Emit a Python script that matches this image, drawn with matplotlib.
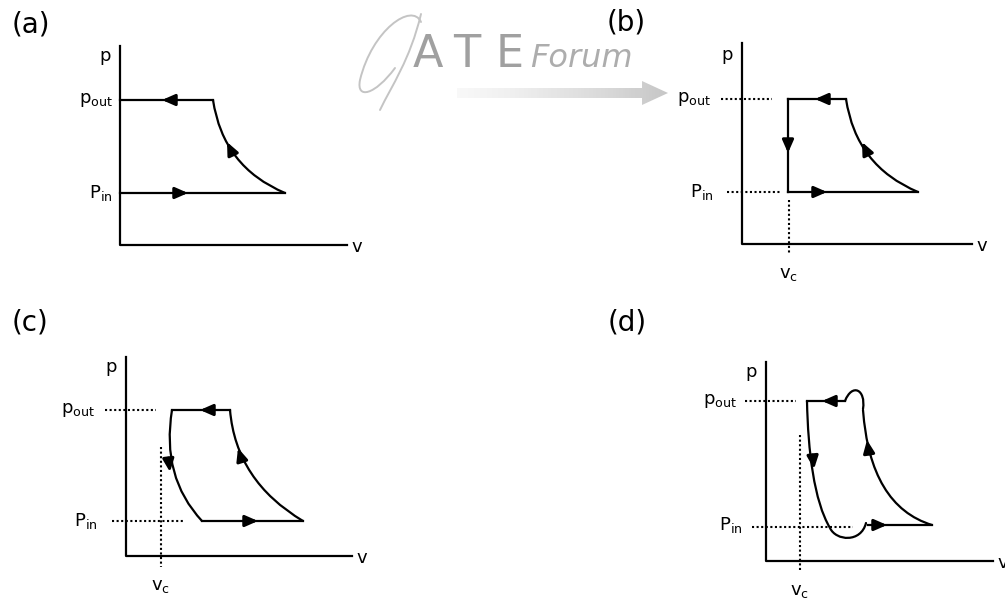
import numpy as np
import matplotlib.pyplot as plt
from matplotlib.path import Path
from matplotlib.patches import PathPatch, Polygon

plt.rcParams['mathtext.default'] = 'regular'
plt.rcParams['font.family'] = ['DejaVu Sans']

W, H = 1005, 599

# --- diagram values (v, p measured from each panel's origin) ---
panel_names = ['(a)', '(b)', '(c)', '(d)']
p_out = [145, 145, 146, 160]
p_in = [52, 52, 35, 36]
v_axis_len = [227, 230, 226, 227]
p_axis_len = [199, 201, 199, 199]
v_c = [None, 47, 35, 34]

# (a) ideal, no clearance
a_top_v = [0, 93]
a_bottom_v = [0, 165]
a_comp = [(93, 145), (103, 78), (165, 52)]

# (b) clearance, instant re-expansion
b_top_v = [46, 104]
b_bottom_v = [46, 176]
b_comp = [(104, 145), (114, 78), (176, 52)]

# (c) clearance with re-expansion curve
c_top_v = [46, 104]
c_bottom_v = [76, 177]
c_comp = [(104, 146), (110, 75), (177, 35)]
c_reexp = [(46, 146), (35, 79), (76, 35)]

# (d) real cycle with valve over/undershoot
d_top_v = [41, 79]
d_bottom_v = [102, 166]
d_bump = [(79, 160), (86, 178), (100, 172), (97, 152)]
d_comp = [(97, 151), (104, 55), (166, 36)]
d_reexp = [(41, 160), (42, 110), (48, 60), (64, 33), (70, 20), (95, 18), (100, 38)]

# arrows: (tip, direction)
arrows = [
    [((42, 145), (-1, 0)), ((68, 52), (1, 0)), ((107, 103), (-0.43, 0.9))],
    [((73, 145), (-1, 0)), ((46, 91), (0, -1)), ((85, 52), (1, 0)), ((120, 102), (-0.43, 0.9))],
    [((74, 146), (-1, 0)), ((44, 84), (0.12, -1)), ((112, 108), (-0.3, 0.95)), ((132, 35), (1, 0))],
    [((56, 160), (-1, 0)), ((48, 92), (0.1, -1)), ((101, 121), (-0.15, 1)), ((121, 36), (1, 0))],
]

# --- layout (pixel origin of each panel, label offsets) ---
origin_x = [120, 742, 126, 766]
origin_y = [245, 244, 556, 561]
label_xy = [(12, 24), (607, 23), (12, 323), (608, 322)]
p_bottom = [-45, -39, -45, -45]
pout_dx = [-7, -31, -31, -29]
pin_dx = [-8, -29, -29, -24]

fig = plt.figure(figsize=(W / 100, H / 100), dpi=100)
fig.patch.set_facecolor('white')

LW = 1.6
FS = 13


def panel_axes(ox, oy, pmin):
    vmin, vmax, pmax = -95, 250, 215
    ax = fig.add_axes([(ox + vmin) / W, (H - (oy - pmin)) / H,
                       (vmax - vmin) / W, (pmax - pmin) / H])
    ax.set_xlim(vmin, vmax)
    ax.set_ylim(pmin, pmax)
    ax.axis('off')
    return ax


def bezier(ax, pts, order=3, color='black', lw=LW):
    code = Path.CURVE3 if order == 3 else Path.CURVE4
    codes = [Path.MOVETO] + [code] * (len(pts) - 1)
    ax.add_patch(PathPatch(Path(pts, codes), fc='none', ec=color, lw=lw,
                           capstyle='round'))


def arrow(ax, tip, d, length=14):
    d = np.array(d, dtype=float)
    d /= np.hypot(*d)
    tail = np.array(tip) - d * length
    ax.annotate('', xy=tip, xytext=tail,
                arrowprops=dict(arrowstyle='-|>,head_length=0.5,head_width=0.22',
                                color='black', lw=2.2, mutation_scale=15,
                                shrinkA=0, shrinkB=0))


def dotted(ax, xs, ys):
    ax.plot(xs, ys, color='black', lw=1.5, ls=(0, (1, 1.2)))


axes = [panel_axes(origin_x[i], origin_y[i], p_bottom[i]) for i in range(4)]

for i, ax in enumerate(axes):
    # axes lines
    ax.plot([0, 0, v_axis_len[i]], [p_axis_len[i], 0, 0], color='black', lw=LW)
    ax.text(-9, 189, 'p', fontsize=FS, ha='right', va='center')
    ax.text(v_axis_len[i] + 4, -2, 'v', fontsize=FS, ha='left', va='center')
    ax.text(pout_dx[i], p_out[i], 'p$_{out}$', fontsize=FS, ha='right', va='center')
    ax.text(pin_dx[i], p_in[i], 'P$_{in}$', fontsize=FS, ha='right', va='center')
    if v_c[i] is not None:
        dotted(ax, [-21, 30], [p_out[i], p_out[i]])
        ax.text(v_c[i], -30, 'v$_c$', fontsize=FS, ha='center', va='center',
                clip_on=True)
    for tip, d in arrows[i]:
        arrow(ax, tip, d)

# (a)
ax = axes[0]
ax.plot(a_top_v, [p_out[0]] * 2, color='black', lw=LW)
ax.plot(a_bottom_v, [p_in[0]] * 2, color='black', lw=LW)
bezier(ax, a_comp, 3)

# (b)
ax = axes[1]
ax.plot(b_top_v, [p_out[1]] * 2, color='black', lw=LW)
ax.plot(b_bottom_v, [p_in[1]] * 2, color='black', lw=LW)
ax.plot([b_top_v[0]] * 2, [p_out[1], p_in[1]], color='black', lw=LW)
bezier(ax, b_comp, 3)
dotted(ax, [-15, 38], [p_in[1]] * 2)
dotted(ax, [v_c[1]] * 2, [44, -11])

# (c)
ax = axes[2]
ax.plot(c_top_v, [p_out[2]] * 2, color='black', lw=LW)
ax.plot(c_bottom_v, [p_in[2]] * 2, color='black', lw=LW)
bezier(ax, c_comp, 3)
bezier(ax, c_reexp, 3)
dotted(ax, [-14, 59], [p_in[2]] * 2)
dotted(ax, [v_c[2]] * 2, [109, -11])

# (d)
ax = axes[3]
ax.plot(d_top_v, [p_out[3]] * 2, color='black', lw=LW)
ax.plot(d_bottom_v, [p_in[3]] * 2, color='black', lw=LW)
bezier(ax, d_bump, 4)
bezier(ax, d_comp, 3)
bezier(ax, d_reexp, 4)
dotted(ax, [-14, 87], [p_in[3] - 2] * 2)
dotted(ax, [v_c[3]] * 2, [126, -9])

# panel letters
for name, (x, y) in zip(panel_names, label_xy):
    fig.text(x / W, 1 - y / H, name, fontsize=20, ha='left', va='center')

# GATE Forum watermark (pixel coordinates, y down)
ov = fig.add_axes([0, 0, 1, 1], zorder=-1)
ov.set_xlim(0, W)
ov.set_ylim(H, 0)
ov.axis('off')
poly = Polygon([(457, 88), (642, 88), (642, 81), (668, 93), (642, 105),
                (642, 98), (457, 98)], closed=True, fc='none', ec='none')
ov.add_patch(poly)
grad = np.linspace(0, 1, 256).reshape(1, -1)
im = ov.imshow(grad, extent=[457, 668, 105, 81], cmap='Greys', vmin=-0.2, vmax=3.4,
               aspect='auto')
im.set_clip_path(poly)
# script G
bezier(ov, [(421, 22), (412, 2), (372, 30), (360, 80), (356, 100), (375, 95), (395, 68)],
       4, color='#c4c4c4', lw=1.4)
bezier(ov, [(421, 14), (410, 60), (392, 85), (380, 110)], 4, color='#c4c4c4', lw=1.4)
for letter, x in zip(['A', 'T', 'E'], [428, 467, 510]):
    ov.text(x, 67, letter, fontsize=32, color='#a0a0a0', ha='center',
            va='baseline')
ov.text(530, 67, 'Forum', fontsize=23, style='italic', color='#adadad',
        ha='left', va='baseline')

fig.savefig('out.png', dpi=100, facecolor='white')
